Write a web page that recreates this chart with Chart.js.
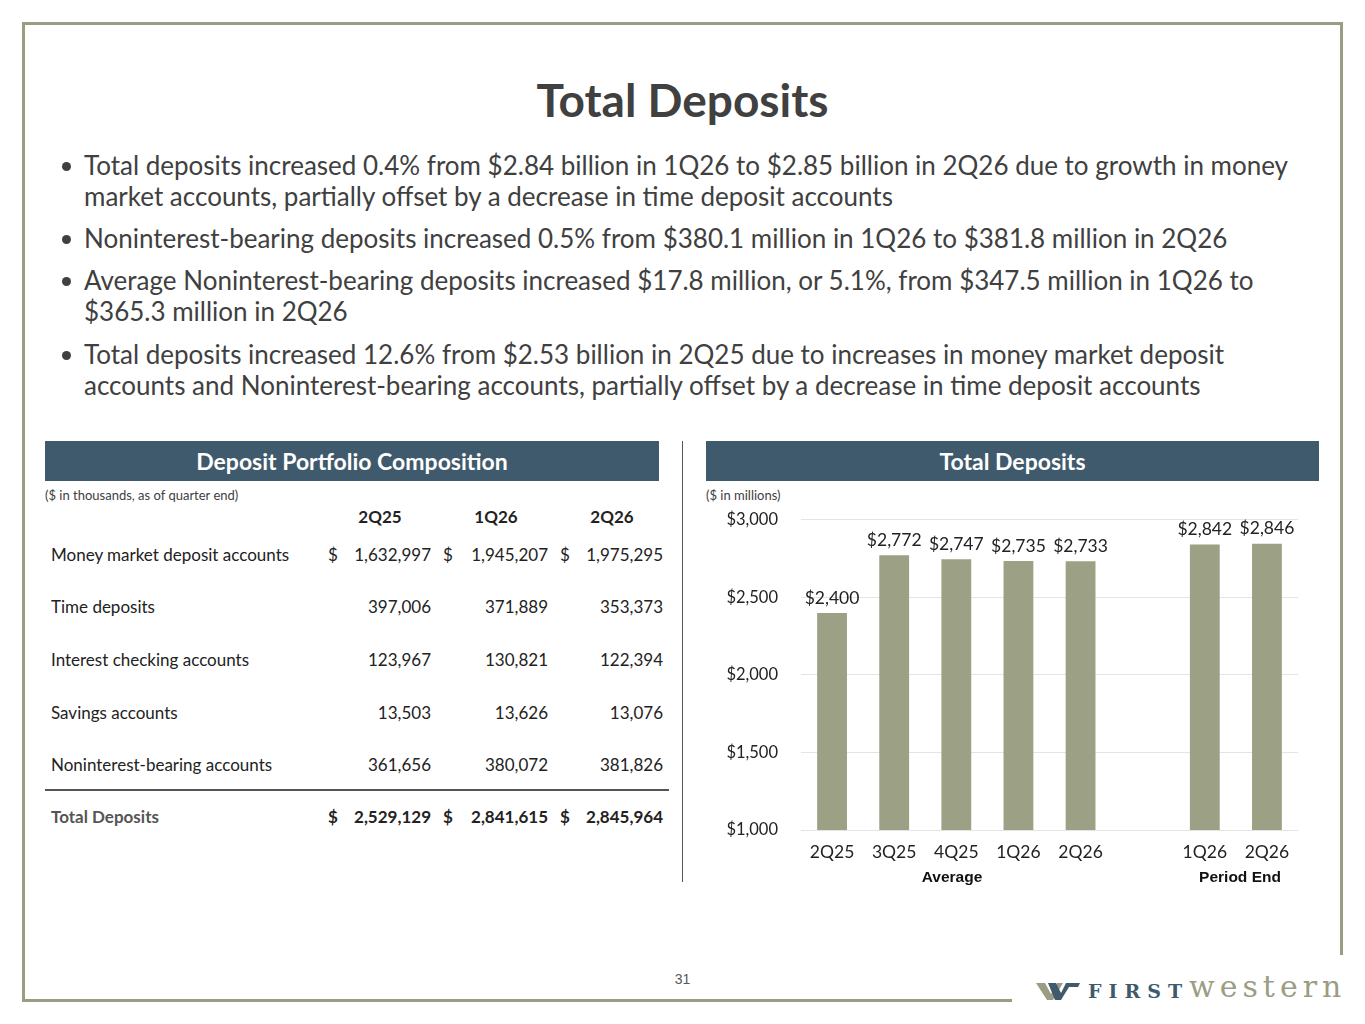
<!DOCTYPE html>
<html>
<head>
<meta charset="utf-8">
<script src="https://cdn.jsdelivr.net/npm/chart.js@4.4.1/dist/chart.umd.min.js"></script>
<style>
  html, body { margin:0; padding:0; background:#fff; }
  body { width:1365px; height:1024px; position:relative; overflow:hidden; font-family:Lato, "Open Sans", sans-serif; color:#404040; }
  .abs { position:absolute; }
  .frame { background:#9b9d83; position:absolute; }
  #titulo { left:0; width:1365px; top:71px; text-align:center; font-size:46px; font-weight:bold; color:#404040; line-height:58px; }
  .bullet { position:absolute; left:84px; font-size:26px; line-height:31px; white-space:nowrap; color:#404040; }
  .ponto { position:absolute; left:62px; width:9px; height:9px; border-radius:50%; background:#404040; }
  .barra { position:absolute; top:441px; height:40px; background:#3f5a6c; color:#fff; font-weight:bold; font-size:23px; line-height:40px; text-align:center; }
  .nota { position:absolute; top:487px; font-size:13px; color:#404040; }
  .cel { position:absolute; font-size:17px; line-height:20px; white-space:nowrap; color:#222; }
  #grafico-box { position:absolute; left:700px; top:487px; width:620px; height:398px; }
  .grupo { position:absolute; top:868px; font-family:"Liberation Sans", Arial, sans-serif; font-weight:bold; font-size:15.5px; color:#111; transform:translateX(-50%); }
</style>
</head>
<body>

<!-- moldura -->
<div class="frame" style="left:22px; top:22px; width:1321px; height:3px;"></div>
<div class="frame" style="left:22px; top:22px; width:3px; height:980px;"></div>
<div class="frame" style="left:1340px; top:22px; width:3px; height:933px;"></div>
<div class="frame" style="left:22px; top:999px; width:990px; height:3px;"></div>

<div id="titulo" class="abs">Total Deposits</div>
<div id="bullets"></div>

<div class="barra" style="left:45px; width:614px;">Deposit Portfolio Composition</div>
<div class="barra" style="left:706px; width:613px;">Total Deposits</div>
<div class="abs" style="left:682px; top:441px; width:1px; height:441px; background:#555;"></div>

<div class="nota" style="left:45px;">($ in thousands, as of quarter end)</div>
<div class="nota" style="left:706px;">($ in millions)</div>

<div id="tabela"></div>

<div id="grafico-box"><canvas id="graficoDepositos"></canvas></div>
<div class="grupo" style="left:952px;">Average</div>
<div class="grupo" style="left:1240px;">Period End</div>

<div class="abs" style="left:0; width:1365px; top:971px; text-align:center; font-family:'Liberation Sans', Arial, sans-serif; font-size:14px; color:#595959;">31</div>

<!-- logo -->
<svg class="abs" style="left:1036px; top:981px;" width="46" height="20" viewBox="0 0 46 20">
  <polygon points="0,2 9,2 15,13 21,2 27,2 17,19 11,19" fill="#9b9d83"/>
  <polygon points="12,2 20,2 25,12 30,2 44,2 42,6 33,6 25,19 19,19" fill="#3f5a6c"/>
</svg>
<div class="abs" style="left:1088px; top:979px; font-family:'DejaVu Serif', serif; font-weight:bold; font-size:19px; letter-spacing:7px; color:#3f5a6c; line-height:24px;">FIRST</div>
<div class="abs" style="left:1189px; top:969px; font-family:'DejaVu Serif', serif; font-size:30px; letter-spacing:5px; color:#9b9d83; line-height:36px;">western</div>

<script>
// --- Textos ---
const bulletLinhas = [
  ["Total deposits increased 0.4% from $2.84 billion in 1Q26 to $2.85 billion in 2Q26 due to growth in money",
   "market accounts, partially offset by a decrease in time deposit accounts"],
  ["Noninterest-bearing deposits increased 0.5% from $380.1 million in 1Q26 to $381.8 million in 2Q26"],
  ["Average Noninterest-bearing deposits increased $17.8 million, or 5.1%, from $347.5 million in 1Q26 to",
   "$365.3 million in 2Q26"],
  ["Total deposits increased 12.6% from $2.53 billion in 2Q25 due to increases in money market deposit",
   "accounts and Noninterest-bearing accounts, partially offset by a decrease in time deposit accounts"]
];
const bulletTopo = [150, 223, 265, 339];

// --- Tabela ---
const trimestresTabela = ["2Q25", "1Q26", "2Q26"];
const contas = ["Money market deposit accounts", "Time deposits", "Interest checking accounts", "Savings accounts", "Noninterest-bearing accounts"];
const saldo2Q25 = [1632997, 397006, 123967, 13503, 361656];
const saldo1Q26 = [1945207, 371889, 130821, 13626, 380072];
const saldo2Q26 = [1975295, 353373, 122394, 13076, 381826];
const totais = [2529129, 2841615, 2845964];

// --- Gráfico ---
const trimestres = ["2Q25", "3Q25", "4Q25", "1Q26", "2Q26", "", "1Q26", "2Q26"];
const totalDepositos = [2400, 2772, 2747, 2735, 2733, null, 2842, 2846];
const ticksY = [1000, 1500, 2000, 2500, 3000];

function fmt(n){ return n.toLocaleString("en-US"); }

function montarBullets(){
  const box = document.getElementById("bullets");
  bulletLinhas.forEach((linhas, i)=>{
    const p = document.createElement("div");
    p.className = "ponto";
    p.style.top = (bulletTopo[i] + 12) + "px";
    box.appendChild(p);
    linhas.forEach((t, j)=>{
      const d = document.createElement("div");
      d.className = "bullet";
      d.style.top = (bulletTopo[i] + j*31) + "px";
      d.textContent = t;
      box.appendChild(d);
    });
  });
}

function cel(txt, x, y, alin, extra){
  const d = document.createElement("div");
  d.className = "cel";
  d.textContent = txt;
  d.style.top = (y - 10) + "px";
  if(alin === "right") d.style.right = (1365 - x) + "px";
  else if(alin === "center"){ d.style.left = x + "px"; d.style.transform = "translateX(-50%)"; }
  else d.style.left = x + "px";
  if(extra) Object.assign(d.style, extra);
  document.getElementById("tabela").appendChild(d);
}

function montarTabela(){
  const centrosCab = [380, 496, 612];
  const cifrao = [328, 443, 560];
  const direita = [431, 548, 663];
  const linhasY = [555, 607, 660, 713, 765];
  trimestresTabela.forEach((t, i)=> cel(t, centrosCab[i], 517, "center", {fontWeight:"bold"}));
  const cols = [saldo2Q25, saldo1Q26, saldo2Q26];
  contas.forEach((c, r)=>{
    cel(c, 51, linhasY[r], "left");
    cols.forEach((col, k)=>{
      if(r === 0) cel("$", cifrao[k], linhasY[r], "left");
      cel(fmt(col[r]), direita[k], linhasY[r], "right");
    });
  });
  const linha = document.createElement("div");
  linha.style.cssText = "position:absolute;left:45px;top:789px;width:624px;height:2px;background:#555;";
  document.getElementById("tabela").appendChild(linha);
  cel("Total Deposits", 51, 817, "left", {fontWeight:"bold", color:"#555"});
  totais.forEach((v, k)=>{
    cel("$", cifrao[k], 817, "left", {fontWeight:"bold"});
    cel(fmt(v), direita[k], 817, "right", {fontWeight:"bold"});
  });
}

// rótulos acima das barras
const rotulosBarras = {
  id: "rotulosBarras",
  afterDatasetsDraw(chart){
    const ctx = chart.ctx;
    const meta = chart.getDatasetMeta(0);
    ctx.save();
    ctx.font = "17.5px Lato";
    ctx.fillStyle = "#222";
    ctx.textAlign = "center";
    ctx.textBaseline = "middle";
    meta.data.forEach((bar, i)=>{
      const v = totalDepositos[i];
      if(v === null) return;
      ctx.fillText("$" + fmt(v), bar.x, bar.y - 15);
    });
    ctx.restore();
  }
};

function desenharGrafico(){
  const ctx = document.getElementById("graficoDepositos");
  new Chart(ctx, {
    type: "bar",
    data: {
      labels: trimestres,
      datasets: [{
        label: "Total Deposits",
        data: totalDepositos,
        backgroundColor: "#9ca084",
        categoryPercentage: 1,
        barPercentage: 0.48
      }]
    },
    options: {
      responsive: true,
      maintainAspectRatio: false,
      animation: false,
      layout: { padding: { top: 14, right: 22, bottom: 0, left: 0 } },
      plugins: { legend: { display: false }, tooltip: { enabled: false } },
      scales: {
        y: {
          min: 1000, max: 3000,
          afterBuildTicks: s => { s.ticks = ticksY.map(v => ({ value: v })); },
          afterFit: s => { s.width = 101; },
          ticks: { padding: 23, color: "#222", font: { family: "Lato", size: 16.5 }, callback: v => "$" + fmt(v) },
          grid: { color: "#e4e4e4", drawTicks: false },
          border: { display: false }
        },
        x: {
          afterFit: s => { s.height = 55; },
          ticks: { padding: 12, color: "#222", font: { family: "Lato", size: 17.5 }, maxRotation: 0, autoSkip: false },
          grid: { display: false, drawTicks: false },
          border: { display: false }
        }
      }
    },
    plugins: [rotulosBarras]
  });
}

window.onload = function(){
  montarBullets();
  montarTabela();
  desenharGrafico();
};
</script>
</body>
</html>
